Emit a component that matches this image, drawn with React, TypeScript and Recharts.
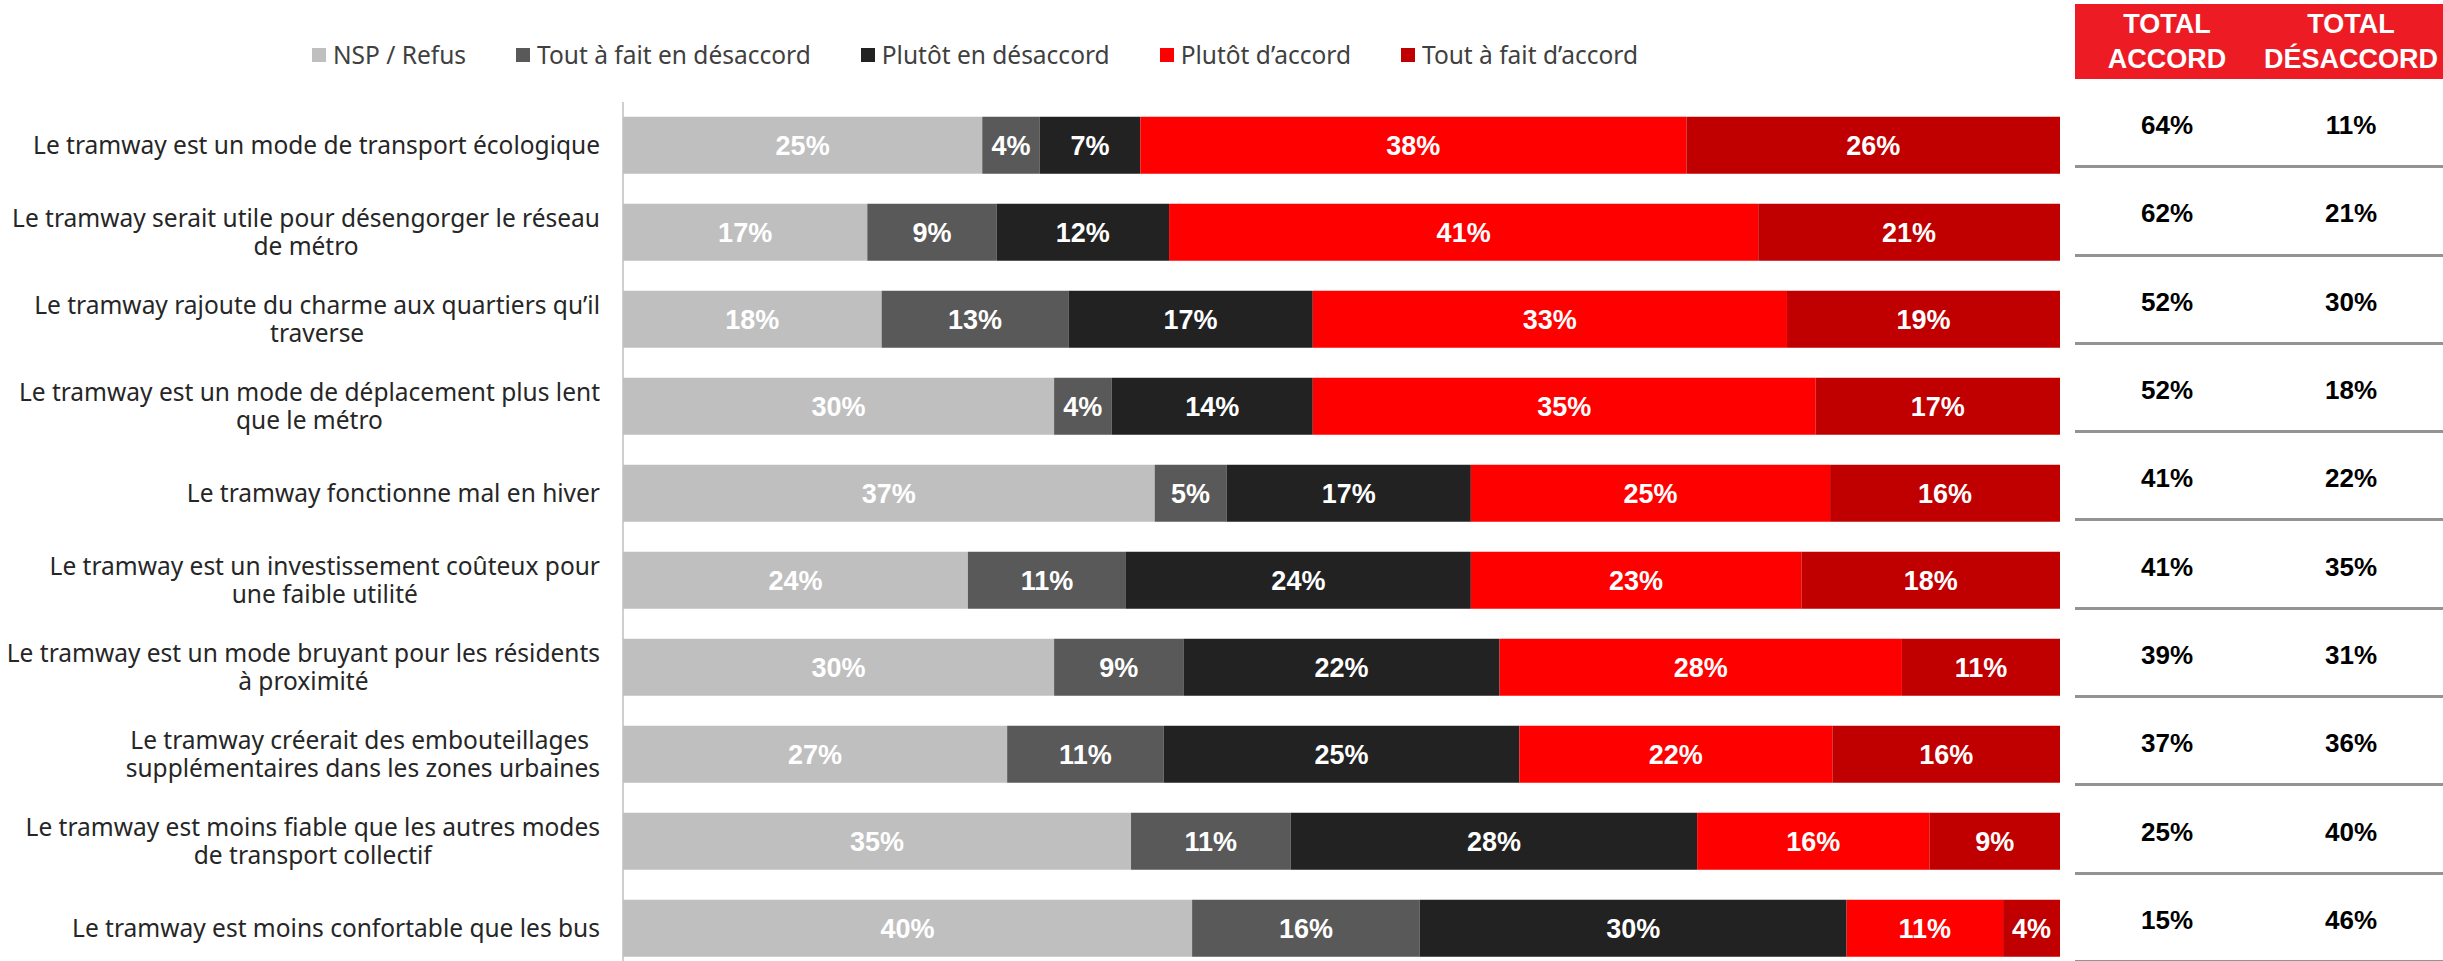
import React from "react";
import { BarChart, Bar, XAxis, YAxis, Legend } from "recharts";

const categories: string[] = [
  "Le tramway est un mode de transport écologique",
  "Le tramway serait utile pour désengorger le réseau\nde métro",
  "Le tramway rajoute du charme aux quartiers qu’il\ntraverse",
  "Le tramway est un mode de déplacement plus lent\nque le métro",
  "Le tramway fonctionne mal en hiver",
  "Le tramway est un investissement coûteux pour\nune faible utilité",
  "Le tramway est un mode bruyant pour les résidents\nà proximité",
  "Le tramway créerait des embouteillages \nsupplémentaires dans les zones urbaines",
  "Le tramway est moins fiable que les autres modes\nde transport collectif",
  "Le tramway est moins confortable que les bus",
];

const nspRefus = [25, 17, 18, 30, 37, 24, 30, 27, 35, 40];
const toutDesaccord = [4, 9, 13, 4, 5, 11, 9, 11, 11, 16];
const plutotDesaccord = [7, 12, 17, 14, 17, 24, 22, 25, 28, 30];
const plutotAccord = [38, 41, 33, 35, 25, 23, 28, 22, 16, 11];
const toutAccord = [26, 21, 19, 17, 16, 18, 11, 16, 9, 4];

const totalAccord = [64, 62, 52, 52, 41, 41, 39, 37, 25, 15];
const totalDesaccord = [11, 21, 30, 18, 22, 35, 31, 36, 40, 46];

const seriesNames = [
  "NSP / Refus",
  "Tout à fait en désaccord",
  "Plutôt en désaccord",
  "Plutôt d’accord",
  "Tout à fait d’accord",
];
const seriesKeys = ["nsp", "tfd", "pd", "pa", "tfa"];
const seriesValues = [nspRefus, toutDesaccord, plutotDesaccord, plutotAccord, toutAccord];
const seriesColors = ["#BFBFBF", "#595959", "#222222", "#FF0000", "#C00000"];

const tableHeaders = ["TOTAL\nACCORD", "TOTAL\nDÉSACCORD"];

const data = categories.map((name, i) => {
  const row: Record<string, any> = { name };
  seriesKeys.forEach((k, s) => {
    row[k] = seriesValues[s][i];
  });
  return row;
});

const LABEL_FONT = "'Noto Sans', sans-serif";
const LABEL_SIZE = 24.5;
const BOLD_FONT = "'Liberation Sans', Arial, sans-serif";

let measureCtx: CanvasRenderingContext2D | null = null;
function measure(text: string): number {
  if (!measureCtx) {
    const c = document.createElement("canvas");
    measureCtx = c.getContext("2d");
  }
  if (!measureCtx) return text.length * LABEL_SIZE * 0.5;
  measureCtx.font = `${LABEL_SIZE}px 'Noto Sans'`;
  return measureCtx.measureText(text).width;
}

const CategoryTick = (props: any) => {
  const { x, y, payload } = props;
  const lines: string[] = String(payload.value).split("\n");
  const maxW = Math.max(...lines.map((l) => measure(l)));
  const cx = x - maxW / 2;
  const lh = 28;
  const startY = y - ((lines.length - 1) * lh) / 2;
  return (
    <text
      x={cx}
      y={startY}
      textAnchor="middle"
      fontFamily={LABEL_FONT}
      fontSize={LABEL_SIZE}
      fill="#262626"
      style={{ whiteSpace: "pre" }}
    >
      {lines.map((l, i) => (
        <tspan key={i} x={cx} y={startY + i * lh} dy="0.35em">
          {l}
        </tspan>
      ))}
    </text>
  );
};

const makeLabel = (values: number[]) => (props: any) => {
  const { x, y, width, height, index } = props;
  const v = values[index];
  if (v === undefined) return null;
  return (
    <text
      x={x + width / 2}
      y={y + height / 2}
      dy="0.36em"
      textAnchor="middle"
      fill="#FFFFFF"
      fontFamily={BOLD_FONT}
      fontWeight="bold"
      fontSize={27}
    >
      {`${v}%`}
    </text>
  );
};

const LegendContent = () => (
  <div style={{ display: "flex", alignItems: "center", whiteSpace: "nowrap" }}>
    {seriesNames.map((n, i) => (
      <div key={n} style={{ display: "flex", alignItems: "center", marginRight: 50 }}>
        <div style={{ width: 14, height: 14, background: seriesColors[i], marginRight: 7 }} />
        <span style={{ fontFamily: LABEL_FONT, fontSize: LABEL_SIZE, color: "#404040" }}>{n}</span>
      </div>
    ))}
  </div>
);

export default function App() {
  const rowH = 88.3;
  return (
    <div
      style={{
        position: "absolute",
        left: 0,
        top: 0,
        width: 2443,
        height: 961,
        overflow: "hidden",
        background: "#FFFFFF",
      }}
    >
      <BarChart
        width={2443}
        height={1000}
        data={data}
        layout="vertical"
        stackOffset="expand"
        barCategoryGap="17%"
        margin={{ top: 102, right: 383, bottom: 28, left: 0 }}
      >
        <XAxis type="number" hide domain={[0, 1]} />
        <YAxis
          type="category"
          dataKey="name"
          width={623}
          tickLine={false}
          tickSize={6}
          tickMargin={17}
          axisLine={{ stroke: "#BFBFBF", strokeWidth: 1.5 }}
          tick={<CategoryTick />}
          interval={0}
        />
        <Legend
          layout="horizontal"
          verticalAlign="middle"
          align="center"
          content={<LegendContent />}
          wrapperStyle={{ top: 38, left: 312, width: "auto", height: "auto" }}
        />
        {seriesKeys.map((k, s) => (
          <Bar
            key={k}
            dataKey={k}
            name={seriesNames[s]}
            stackId="a"
            fill={seriesColors[s]}
            isAnimationActive={false}
            label={makeLabel(seriesValues[s])}
          />
        ))}
      </BarChart>

      <div
        style={{
          position: "absolute",
          left: 2075,
          top: 4,
          width: 368,
          height: 75,
          background: "#ED1C24",
          display: "flex",
        }}
      >
        {tableHeaders.map((h) => (
          <div
            key={h}
            style={{
              flex: 1,
              display: "flex",
              flexDirection: "column",
              alignItems: "center",
              justifyContent: "center",
              color: "#FFFFFF",
              fontFamily: BOLD_FONT,
              fontWeight: "bold",
              fontSize: 27,
              lineHeight: "35px",
            }}
          >
            {h.split("\n").map((l) => (
              <div key={l}>{l}</div>
            ))}
          </div>
        ))}
      </div>

      {totalAccord.map((a, i) => (
        <div
          key={i}
          style={{
            position: "absolute",
            left: 2075,
            top: 80 + i * rowH,
            width: 368,
            height: rowH,
            display: "flex",
            borderBottom: "3px solid #939393",
            boxSizing: "border-box",
          }}
        >
          {[a, totalDesaccord[i]].map((v, j) => (
            <div
              key={j}
              style={{
                flex: 1,
                display: "flex",
                alignItems: "center",
                justifyContent: "center",
                fontFamily: BOLD_FONT,
                fontWeight: "bold",
                fontSize: 26,
                color: "#000000",
                paddingTop: 6,
              }}
            >
              {`${v}%`}
            </div>
          ))}
        </div>
      ))}
    </div>
  );
}
